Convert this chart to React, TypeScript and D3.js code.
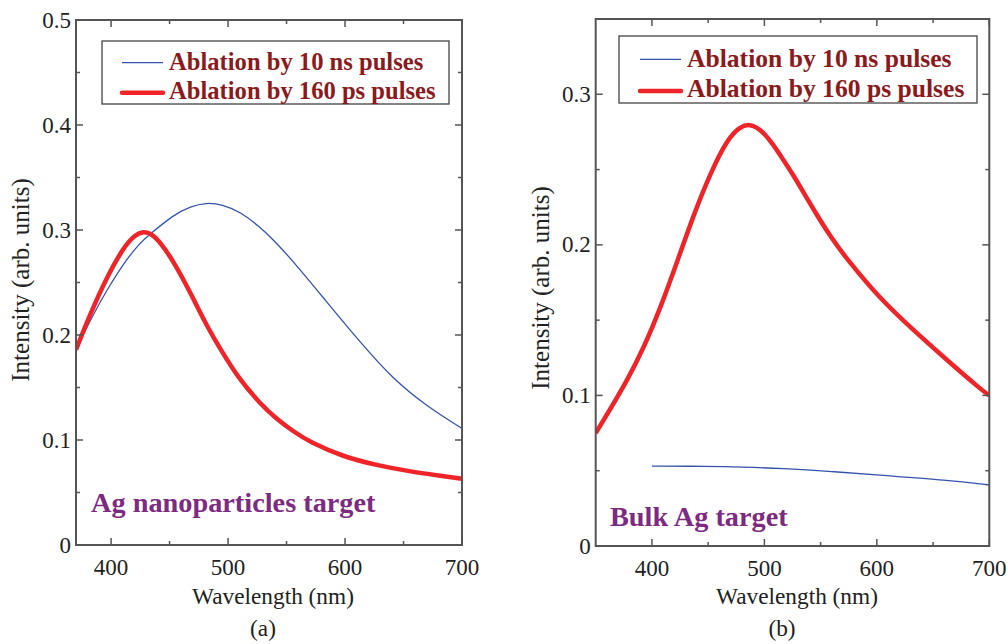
import React from "react";
import * as d3 from "d3";

// ---------- Data ----------
// Panel (a): Ag nanoparticles target
const aNsWavelength = [370, 383, 396.5, 411, 425, 431, 454, 468, 481, 495, 511, 527, 537.5, 556, 584, 613, 641, 670, 700];
const aNsIntensity = [0.186, 0.216, 0.243, 0.269, 0.288, 0.294, 0.315, 0.3225, 0.326, 0.3245, 0.317, 0.303, 0.292, 0.27, 0.232, 0.193, 0.158, 0.132, 0.111];
const aPsWavelength = [370, 382.5, 396.7, 411, 420, 428, 435, 442.4, 454, 468, 482, 496.5, 509, 527, 541.5, 556, 570, 598.5, 627, 655.5, 681, 700];
const aPsIntensity = [0.186, 0.221, 0.256, 0.284, 0.295, 0.299, 0.296, 0.288, 0.269, 0.24, 0.208, 0.181, 0.159, 0.135, 0.12, 0.108, 0.098, 0.084, 0.076, 0.07, 0.066, 0.063];

// Panel (b): Bulk Ag target
const bNsWavelength = [400, 450, 480, 516, 560, 603, 663, 700];
const bNsIntensity = [0.053, 0.053, 0.0525, 0.0515, 0.0495, 0.047, 0.0438, 0.0405];
const bPsWavelength = [350, 363, 378, 393, 408, 423, 437.6, 452.5, 467, 478, 487, 497, 506, 516, 527, 544, 560, 574, 603, 633, 663, 692.5, 700];
const bPsIntensity = [0.075, 0.091, 0.11, 0.132, 0.159, 0.19, 0.221, 0.2485, 0.27, 0.2785, 0.2805, 0.2765, 0.2685, 0.2575, 0.245, 0.223, 0.204, 0.19, 0.164, 0.143, 0.123, 0.104, 0.1];

const xMajorTicks = [400, 500, 600, 700];
const xMinorTicks = [450, 550, 650];
const aYMajorTicks = [0, 0.1, 0.2, 0.3, 0.4, 0.5];
const aYMinorTicks = [0.05, 0.15, 0.25, 0.35, 0.45];
const bYMajorTicks = [0, 0.1, 0.2, 0.3];
const bYMinorTicks = [0.05, 0.15, 0.25];

const legendLabels = ["Ablation by 10 ns pulses", "Ablation by 160 ps pulses"];
const xTitle = "Wavelength (nm)";
const yTitle = "Intensity (arb. units)";

const SERIF = '"Liberation Serif", "Times New Roman", Times, serif';
const BLUE = "#3553ad";
const RED = "#ee2428";
const LEGEND_TEXT = "#8a1a1c";
const PURPLE = "#7d2a82";
const AXIS = "#555";

type PanelProps = {
  id: string;
  left: number; right: number; top: number; bottom: number;
  xDomain: [number, number]; yDomain: [number, number];
  yMajor: number[]; yMinor: number[];
  ns: { x: number[]; y: number[] };
  ps: { x: number[]; y: number[] };
  legend: { x0: number; y0: number; x1: number; y1: number; l1: number; l2: number; t1: number; t2: number; lx0: number; lx1: number; tx: number; fs: number };
  note: { text: string; x: number; y: number };
  titleCx: number; yTitleX: number; yTitleCy: number; caption: string; captionCx: number;
};

function fmt(v: number) {
  return v === 0 ? "0" : d3.format(".1f")(v);
}

function Panel(p: PanelProps) {
  const x = d3.scaleLinear().domain(p.xDomain).range([p.left, p.right]);
  const y = d3.scaleLinear().domain(p.yDomain).range([p.bottom, p.top]);
  const line = d3
    .line<[number, number]>()
    .x((d) => x(d[0]))
    .y((d) => y(d[1]))
    .curve(d3.curveBasis);
  const nsPts = p.ns.x.map((v, i) => [v, p.ns.y[i]] as [number, number]);
  const psPts = p.ps.x.map((v, i) => [v, p.ps.y[i]] as [number, number]);
  const MAJ = 7, MIN = 4;
  const L = p.legend;
  return (
    <g>
      <defs>
        <clipPath id={p.id}>
          <rect x={p.left} y={p.top} width={p.right - p.left} height={p.bottom - p.top} />
        </clipPath>
      </defs>
      <g clipPath={`url(#${p.id})`}>
        <path d={line(nsPts) || ""} fill="none" stroke={BLUE} strokeWidth={1.3} />
        <path d={line(psPts) || ""} fill="none" stroke={RED} strokeWidth={4.5} strokeLinejoin="round" />
      </g>
      {/* frame */}
      <rect x={p.left} y={p.top} width={p.right - p.left} height={p.bottom - p.top} fill="none" stroke={AXIS} strokeWidth={2} />
      {/* x ticks */}
      {xMajorTicks.map((t) => (
        <g key={"xm" + t}>
          <line x1={x(t)} x2={x(t)} y1={p.bottom} y2={p.bottom - MAJ} stroke={AXIS} strokeWidth={1.5} />
          <line x1={x(t)} x2={x(t)} y1={p.top} y2={p.top + MAJ} stroke={AXIS} strokeWidth={1.5} />
          <text x={x(t)} y={p.bottom + 30} textAnchor="middle" fontFamily={SERIF} fontSize={23} fill="#222">{t}</text>
        </g>
      ))}
      {xMinorTicks.map((t) => (
        <g key={"xn" + t}>
          <line x1={x(t)} x2={x(t)} y1={p.bottom} y2={p.bottom - MIN} stroke={AXIS} strokeWidth={1.5} />
          <line x1={x(t)} x2={x(t)} y1={p.top} y2={p.top + MIN} stroke={AXIS} strokeWidth={1.5} />
        </g>
      ))}
      {/* y ticks */}
      {p.yMajor.map((t) => (
        <g key={"ym" + t}>
          <line x1={p.left} x2={p.left + MAJ} y1={y(t)} y2={y(t)} stroke={AXIS} strokeWidth={1.5} />
          <line x1={p.right} x2={p.right - MAJ} y1={y(t)} y2={y(t)} stroke={AXIS} strokeWidth={1.5} />
          <text x={p.left - 5} y={y(t) + 7.5} textAnchor="end" fontFamily={SERIF} fontSize={23} fill="#222">{fmt(t)}</text>
        </g>
      ))}
      {p.yMinor.map((t) => (
        <g key={"yn" + t}>
          <line x1={p.left} x2={p.left + MIN} y1={y(t)} y2={y(t)} stroke={AXIS} strokeWidth={1.5} />
          <line x1={p.right} x2={p.right - MIN} y1={y(t)} y2={y(t)} stroke={AXIS} strokeWidth={1.5} />
        </g>
      ))}
      {/* legend */}
      <rect x={L.x0} y={L.y0} width={L.x1 - L.x0} height={L.y1 - L.y0} fill="#fff" stroke="#444" strokeWidth={1.3} />
      <line x1={L.lx0} x2={L.lx1} y1={L.l1} y2={L.l1} stroke={BLUE} strokeWidth={1.3} />
      <line x1={L.lx0} x2={L.lx1} y1={L.l2} y2={L.l2} stroke={RED} strokeWidth={4.5} strokeLinecap="round" />
      <text x={L.tx} y={L.t1} fontFamily={SERIF} fontWeight="bold" fontSize={L.fs} fill={LEGEND_TEXT}>{legendLabels[0]}</text>
      <text x={L.tx} y={L.t2} fontFamily={SERIF} fontWeight="bold" fontSize={L.fs} fill={LEGEND_TEXT}>{legendLabels[1]}</text>
      {/* annotation */}
      <text x={p.note.x} y={p.note.y} fontFamily={SERIF} fontWeight="bold" fontSize={28.3} fill={PURPLE}>{p.note.text}</text>
      {/* titles */}
      <text x={p.titleCx} y={604} textAnchor="middle" fontFamily={SERIF} fontSize={23.3} fill="#222">{xTitle}</text>
      <text x={p.captionCx} y={636} textAnchor="middle" fontFamily={SERIF} fontSize={23.3} fill="#222">{p.caption}</text>
      <text transform={`translate(${p.yTitleX},${p.yTitleCy}) rotate(-90)`} textAnchor="middle" fontFamily={SERIF} fontSize={25} fill="#222">{yTitle}</text>
    </g>
  );
}

export default function App() {
  return (
    <svg width={1007} height={644} style={{ position: "absolute", left: 0, top: 0, background: "#fff" }}>
      <rect x={0} y={0} width={1007} height={644} fill="#fff" />
      <Panel
        id="clipA"
        left={76} right={462} top={20} bottom={545}
        xDomain={[370, 700]} yDomain={[0, 0.5]}
        yMajor={aYMajorTicks} yMinor={aYMinorTicks}
        ns={{ x: aNsWavelength, y: aNsIntensity }}
        ps={{ x: aPsWavelength, y: aPsIntensity }}
        legend={{ x0: 102, y0: 41, x1: 449, y1: 104, l1: 62.7, l2: 92.7, t1: 69.5, t2: 99, lx0: 122, lx1: 163, tx: 169, fs: 24.6 }}
        note={{ text: "Ag nanoparticles target", x: 91, y: 512 }}
        titleCx={273} yTitleX={29} yTitleCy={280} caption="(a)" captionCx={263}
      />
      <Panel
        id="clipB"
        left={595.7} right={989.3} top={19} bottom={546}
        xDomain={[350, 700]} yDomain={[0, 0.35]}
        yMajor={bYMajorTicks} yMinor={bYMinorTicks}
        ns={{ x: bNsWavelength, y: bNsIntensity }}
        ps={{ x: bPsWavelength, y: bPsIntensity }}
        legend={{ x0: 619, y0: 36, x1: 977, y1: 103, l1: 59.3, l2: 91, t1: 66.5, t2: 97, lx0: 640, lx1: 681, tx: 687, fs: 25.6 }}
        note={{ text: "Bulk Ag target", x: 610, y: 526 }}
        titleCx={797} yTitleX={549} yTitleCy={288} caption="(b)" captionCx={782}
      />
    </svg>
  );
}
